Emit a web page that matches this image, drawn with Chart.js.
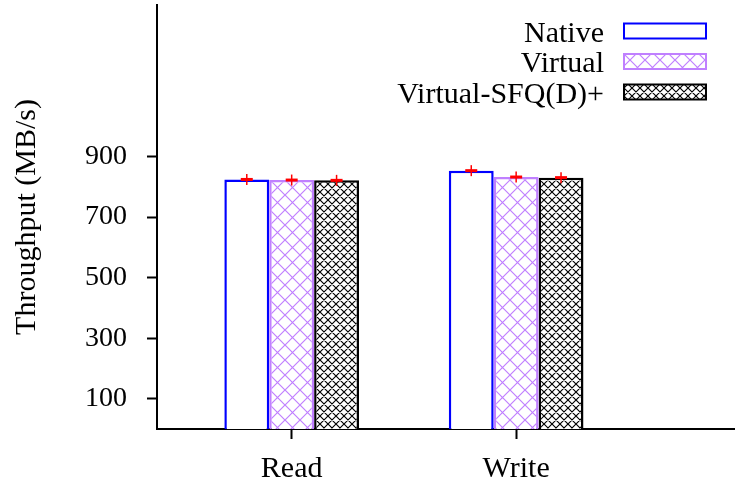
<!DOCTYPE html>
<html>
<head>
<meta charset="utf-8">
<script src="https://cdn.jsdelivr.net/npm/chart.js@4/dist/chart.umd.min.js"></script>
<style>
  html, body { margin: 0; padding: 0; background: #ffffff; }
  #wrap { width: 735px; height: 489px; }
</style>
</head>
<body>
<div id="wrap"><canvas id="c"></canvas></div>
<script>
// Throughput per operation (MB/s)
const categories = ['Read', 'Write'];
const seriesNames = ['Native', 'Virtual', 'Virtual-SFQ(D)+'];
const nativeValues = [824, 853];
const virtualValues = [822, 832];
const sfqValues = [821, 830];
const yTickValues = [100, 300, 500, 700, 900];

const FONT = "'Liberation Serif', 'Times New Roman', serif";
const BLUE = '#0000ff';
const PURPLE = '#c080ff';
const BLACK = '#000000';

const canvas = document.getElementById('c');
const mainCtx = canvas.getContext('2d');

// Diagonal cross-hatch tile, repeated as a fill pattern
function crossHatch(period, color, lineWidth) {
  const tile = document.createElement('canvas');
  tile.width = period;
  tile.height = period;
  const g = tile.getContext('2d');
  g.fillStyle = '#ffffff';
  g.fillRect(0, 0, period, period);
  g.strokeStyle = color;
  g.lineWidth = lineWidth;
  g.beginPath();
  for (let k = -1; k <= 1; k++) {
    g.moveTo(k * period, 0);
    g.lineTo(k * period + period, period);
    g.moveTo(k * period + period, 0);
    g.lineTo(k * period, period);
  }
  g.stroke();
  return mainCtx.createPattern(tile, 'repeat');
}

const virtualFill = crossHatch(15, PURPLE, 1.2);
const sfqFill = crossHatch(8, BLACK, 1.15);

function toPoints(values) {
  return values.map((v, i) => ({ x: i + 1, y: v }));
}

const datasets = [
  { label: seriesNames[0], data: toPoints(nativeValues), backgroundColor: '#ffffff', borderColor: BLUE },
  { label: seriesNames[1], data: toPoints(virtualValues), backgroundColor: virtualFill, borderColor: PURPLE },
  { label: seriesNames[2], data: toPoints(sfqValues), backgroundColor: sfqFill, borderColor: BLACK }
].map(d => Object.assign(d, { borderWidth: 2.5, borderSkipped: 'bottom', categoryPercentage: 0.6, barPercentage: 1.0 }));

// Red "+" marker on top of each bar at its value
const valueMarks = {
  id: 'valueMarks',
  afterDatasetsDraw(chart) {
    const ctx = chart.ctx;
    const yScale = chart.scales.y;
    ctx.save();
    ctx.strokeStyle = '#ff0000';
    chart.data.datasets.forEach((ds, di) => {
      const meta = chart.getDatasetMeta(di);
      meta.data.forEach((el, i) => {
        const y = yScale.getPixelForValue(ds.data[i].y);
        ctx.lineWidth = 3;
        ctx.beginPath();
        ctx.moveTo(el.x - 6, y);
        ctx.lineTo(el.x + 6, y);
        ctx.stroke();
        ctx.lineWidth = 1.5;
        ctx.beginPath();
        ctx.moveTo(el.x, y - 5.5);
        ctx.lineTo(el.x, y + 5.5);
        ctx.stroke();
      });
    });
    ctx.restore();
  }
};

// Key in the upper right: right-aligned label followed by a sample box
const seriesKey = {
  id: 'seriesKey',
  afterDraw(chart) {
    const ctx = chart.ctx;
    const textRight = 604;
    const boxLeft = 624, boxW = 82, boxH = 15;
    const firstRow = 31, rowGap = 30.5;
    ctx.save();
    ctx.font = '30px ' + FONT;
    ctx.textAlign = 'right';
    ctx.textBaseline = 'alphabetic';
    chart.data.datasets.forEach((ds, i) => {
      const cy = firstRow + i * rowGap;
      ctx.fillStyle = '#000000';
      ctx.fillText(ds.label, textRight, cy + 10.5);
      ctx.fillStyle = ds.backgroundColor;
      ctx.fillRect(boxLeft, cy - boxH / 2, boxW, boxH);
      ctx.strokeStyle = ds.borderColor;
      ctx.lineWidth = 2;
      ctx.strokeRect(boxLeft, cy - boxH / 2, boxW, boxH);
    });
    ctx.restore();
  }
};

new Chart(canvas, {
  type: 'bar',
  data: { datasets },
  plugins: [valueMarks, seriesKey],
  options: {
    responsive: true,
    maintainAspectRatio: false,
    animation: false,
    layout: { padding: { top: 5, right: 0, bottom: 0, left: 0 } },
    plugins: {
      legend: { display: false },
      tooltip: { enabled: false }
    },
    scales: {
      x: {
        type: 'linear',
        min: 0.4,
        max: 2.975,
        offset: false,
        afterBuildTicks(scale) {
          scale.ticks = categories.map((c, i) => ({ value: i + 1 }));
        },
        afterFit(scale) {
          scale.height = 60;
          scale.paddingLeft = 0;
          scale.paddingRight = 0;
        },
        ticks: {
          color: '#000000',
          font: { family: FONT, size: 30 },
          padding: 12,
          maxRotation: 0,
          autoSkip: false,
          callback: (v) => categories[Math.round(v) - 1]
        },
        grid: {
          offset: false,
          drawOnChartArea: false,
          drawTicks: true,
          tickLength: 10,
          tickWidth: 2,
          tickColor: '#000000'
        },
        border: { display: true, color: '#000000', width: 2 }
      },
      y: {
        min: 0,
        max: 1400,
        afterBuildTicks(scale) {
          scale.ticks = yTickValues.map(v => ({ value: v }));
        },
        afterFit(scale) {
          scale.width = 157;
          scale.paddingTop = 0;
          scale.paddingBottom = 0;
        },
        ticks: {
          color: '#000000',
          font: { family: FONT, size: 28 },
          padding: 20,
          callback: (v) => String(v)
        },
        grid: {
          drawOnChartArea: false,
          drawTicks: true,
          tickLength: 10,
          tickWidth: 2,
          tickColor: '#000000'
        },
        border: { display: true, color: '#000000', width: 2 },
        title: {
          display: true,
          text: 'Throughput (MB/s)',
          color: '#000000',
          font: { family: FONT, size: 30 },
          padding: { top: 9, bottom: 0 }
        }
      }
    }
  }
});
</script>
</body>
</html>
